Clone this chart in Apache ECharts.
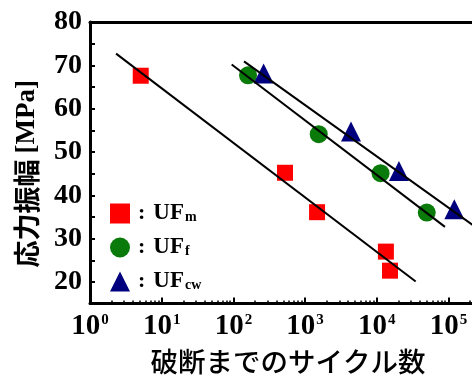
<!DOCTYPE html>
<html>
<head>
<meta charset="utf-8">
<script src="https://cdn.jsdelivr.net/npm/echarts@6/dist/echarts.min.js"></script>
<style>
  html, body { margin: 0; padding: 0; background: #fff; }
  #chart { width: 472px; height: 383px; }
</style>
</head>
<body>
<div id="chart"></div>
<script>
// Fatigue data: cycles to failure vs. stress amplitude
const subscripts = { UFm: 'm', UFf: 'f', UFcw: 'cw' };

const ufmCycles = [5.1, 525, 1470, 13400, 15300];
const ufmStress = [67.6, 45.2, 36.1, 27.0, 22.6];

const uffCycles = [160, 1550, 11300, 49800];
const uffStress = [67.7, 54.1, 45.1, 36.0];

const ufcwCycles = [264, 4370, 20400, 120600];
const ufcwStress = [68.1, 54.7, 45.6, 36.8];

// Regression lines (end points)
const fitMCycles = [2.31, 34900];
const fitMStress = [72.7, 20.1];
const fitFCycles = [94.7, 89400];
const fitFStress = [70.2, 32.7];
const fitCwCycles = [140.6, 300000];
const fitCwStress = [70.9, 31.5];

// Axis ticks
const yTicks = [20, 30, 40, 50, 60, 70, 80];
const decades = [1, 10, 100, 1000, 10000, 100000];
const minorTicks = [];
for (let d = 0; d < decades.length; d++) {
  for (let k = 2; k <= 9; k++) minorTicks.push(k * decades[d]);
}
const xMin = 1;
const xMax = 213000;

const pairs = (xs, ys) => xs.map((x, i) => [x, ys[i]]);

const serif = '"Liberation Serif", "Times New Roman", serif';
const cjk = '"Noto Sans CJK JP", sans-serif';

const chart = echarts.init(document.getElementById('chart'), null, { renderer: 'canvas' });

chart.setOption({
  animation: false,
  backgroundColor: '#fff',
  grid: {
    left: 90,
    top: 22,
    right: 0,
    height: 284.7,
    containLabel: false
  },
  legend: {
    data: [
      { name: 'UFm', icon: 'rect' },
      { name: 'UFf', icon: 'circle' },
      { name: 'UFcw', icon: 'triangle' }
    ],
    orient: 'vertical',
    left: 105,
    top: 197,
    itemWidth: 20,
    itemHeight: 20,
    itemGap: 11,
    formatter: name => '{c|:}{b|UF}{s|' + subscripts[name] + '}',
    textStyle: {
      rich: {
        c: { fontFamily: serif, fontWeight: 'bold', fontSize: 22, color: '#000', padding: [0, 8, 0, 3], lineHeight: 22 },
        b: { fontFamily: serif, fontWeight: 'bold', fontSize: 23, color: '#000', lineHeight: 22 },
        s: { fontFamily: serif, fontWeight: 'bold', fontSize: 14, color: '#000', verticalAlign: 'bottom', lineHeight: 22, padding: [8, 0, 0, 1] }
      }
    }
  },
  xAxis: [
    {
      type: 'log',
      logBase: 10,
      min: xMin,
      max: xMax,
      position: 'bottom',
      axisLine: { show: true, lineStyle: { color: '#000', width: 3 } },
      axisTick: { show: true, inside: true, length: 6, customValues: decades, lineStyle: { color: '#000', width: 2 } },
      splitLine: { show: false },
      axisLabel: {
        margin: 9,
        customValues: decades,
        formatter: v => '{b|10}{s|' + Math.round(Math.log10(v)) + '}',
        rich: {
          b: { fontFamily: serif, fontWeight: 'bold', fontSize: 29, color: '#000', lineHeight: 28 },
          s: { fontFamily: serif, fontWeight: 'bold', fontSize: 15, color: '#000', verticalAlign: 'top', lineHeight: 28, padding: [0, 0, 10, 1] }
        }
      },
      name: '破断までのサイクル数',
      nameLocation: 'middle',
      nameGap: 40,
      nameTextStyle: {
        fontFamily: cjk,
        fontSize: 27.5,
        fontWeight: 500,
        color: '#000',
        lineHeight: 32,
        padding: [0, 0, 0, 14]
      }
    },
    {
      type: 'log',
      logBase: 10,
      min: xMin,
      max: xMax,
      position: 'bottom',
      axisLine: { show: false },
      axisTick: { show: true, inside: true, length: 3, customValues: minorTicks, lineStyle: { color: '#000', width: 1.5 } },
      axisLabel: { show: false },
      splitLine: { show: false }
    },
    {
      type: 'log',
      logBase: 10,
      min: xMin,
      max: xMax,
      position: 'top',
      axisLine: { show: true, lineStyle: { color: '#000', width: 3 } },
      axisTick: { show: false },
      axisLabel: { show: false },
      splitLine: { show: false }
    }
  ],
  yAxis: {
    type: 'value',
    min: 15,
    max: 80,
    interval: 5,
    axisLine: { show: true, lineStyle: { color: '#000', width: 3 } },
    axisTick: { show: true, inside: true, length: 5, lineStyle: { color: '#000', width: 2 } },
    splitLine: { show: false },
    axisLabel: {
      margin: 8,
      formatter: v => (yTicks.indexOf(v) >= 0 ? String(v) : ''),
      fontFamily: serif,
      fontWeight: 'bold',
      fontSize: 28,
      color: '#000'
    },
    name: '{j|応力振幅 }{e|[MPa]}',
    nameLocation: 'middle',
    nameRotate: 90,
    nameGap: 48,
    nameTextStyle: {
      padding: [0, 22, 0, 0],
      rich: {
        j: { fontFamily: cjk, fontWeight: 'bold', fontSize: 27, color: '#000', lineHeight: 30 },
        e: { fontFamily: serif, fontWeight: 'bold', fontSize: 27, color: '#000', lineHeight: 30 }
      }
    }
  },
  series: [
    {
      name: 'UFm', type: 'scatter', xAxisIndex: 0,
      symbol: 'rect', symbolSize: 16,
      itemStyle: { color: '#ff0000', opacity: 1 },
      data: pairs(ufmCycles, ufmStress), z: 2
    },
    {
      name: 'UFf', type: 'scatter', xAxisIndex: 0,
      symbol: 'circle', symbolSize: 18,
      itemStyle: { color: '#0a7a0a', opacity: 1 },
      data: pairs(uffCycles, uffStress), z: 2
    },
    {
      name: 'UFcw', type: 'scatter', xAxisIndex: 0,
      symbol: 'triangle', symbolSize: 20,
      itemStyle: { color: '#00007f', opacity: 1 },
      data: pairs(ufcwCycles, ufcwStress), z: 2
    },
    {
      name: 'fitM', type: 'line', xAxisIndex: 0, symbol: 'none', silent: true, z: 3,
      lineStyle: { color: '#000', width: 2 },
      data: pairs(fitMCycles, fitMStress)
    },
    {
      name: 'fitF', type: 'line', xAxisIndex: 0, symbol: 'none', silent: true, z: 3,
      lineStyle: { color: '#000', width: 2 },
      data: pairs(fitFCycles, fitFStress)
    },
    {
      name: 'fitCw', type: 'line', xAxisIndex: 0, symbol: 'none', silent: true, z: 3,
      lineStyle: { color: '#000', width: 2 },
      data: pairs(fitCwCycles, fitCwStress)
    }
  ]
});
</script>
</body>
</html>
